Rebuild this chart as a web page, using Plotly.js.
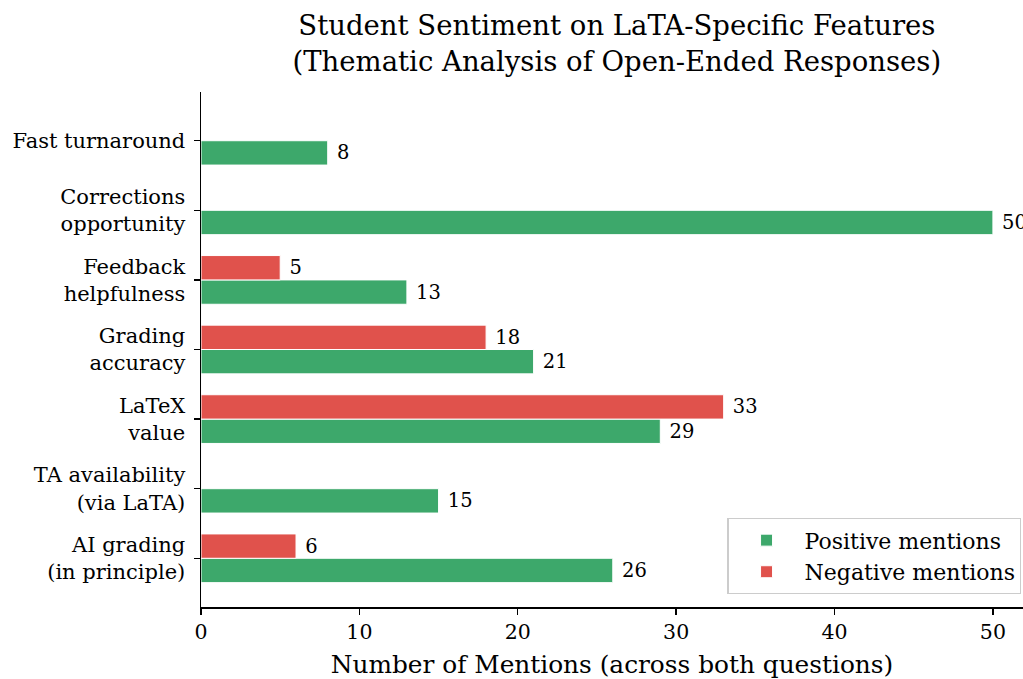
<!DOCTYPE html>
<html>
<head>
<meta charset="utf-8">
<script src="https://cdn.plot.ly/plotly-3.0.1.min.js"></script>
<style>html,body{margin:0;padding:0;background:#fff;}#chart{width:1023px;height:679px;}</style>
</head>
<body>
<div id="chart"></div>
<script>
const categories = ["Fast turnaround", "Corrections<br>opportunity", "Feedback<br>helpfulness", "Grading<br>accuracy", "LaTeX<br>value", "TA availability<br>(via LaTA)", "AI grading<br>(in principle)"];
const positiveValues = [8, 50, 13, 21, 29, 15, 26];
const negativeValues = [0, 0, 5, 18, 33, 0, 6];
const xTicks = [0, 10, 20, 30, 40, 50];

const FONT = "DejaVu Serif, serif";
const lbl = arr => arr.map(v => v > 0 ? "\u00a0" + String(v) : "");

const traces = [
  {
    type: "bar", orientation: "h", name: "Positive mentions",
    y: categories, x: positiveValues,
    offset: 0, width: 0.35,
    marker: {color: "#3DA86B", line: {color: "#ffffff", width: 1}},
    text: lbl(positiveValues), textposition: "outside", cliponaxis: false,
    textfont: {family: FONT, size: 19.5, color: "#000"}, constraintext: "none",
    hoverinfo: "x+name"
  },
  {
    type: "bar", orientation: "h", name: "Negative mentions",
    y: categories, x: negativeValues,
    offset: -0.35, width: 0.35,
    marker: {color: "#E0524C", line: {color: "#ffffff", width: 1}},
    text: lbl(negativeValues), textposition: "outside", cliponaxis: false,
    textfont: {family: FONT, size: 19.5, color: "#000"}, constraintext: "none",
    hoverinfo: "x+name"
  }
];

const layout = {
  width: 1023, height: 679,
  margin: {l: 201, r: 0, t: 92, b: 72},
  paper_bgcolor: "#fff", plot_bgcolor: "#fff",
  font: {family: FONT, color: "#000", size: 21},
  title: {
    text: "Student Sentiment on LaTA-Specific Features<br>(Thematic Analysis of Open-Ended Responses)",
    font: {family: FONT, size: 27.5, color: "#000"},
    xref: "container", yref: "container",
    x: 0.603, xanchor: "center", y: 0.948, yanchor: "middle"
  },
  barmode: "overlay",
  showlegend: true,
  legend: {
    xref: "paper", yref: "paper",
    x: 0.998, xanchor: "right", y: 0.025, yanchor: "bottom",
    bgcolor: "rgba(255,255,255,0.85)", bordercolor: "#cccccc", borderwidth: 1.2,
    font: {family: FONT, size: 22, color: "#000"},
    traceorder: "normal", itemwidth: 66
  },
  xaxis: {
    range: [0, 51.9], tickvals: xTicks, ticktext: xTicks.map(String),
    showgrid: false, zeroline: false,
    showline: true, linecolor: "#000", linewidth: 1.5,
    ticks: "outside", ticklen: 6, tickwidth: 1.3, tickcolor: "#000",
    tickfont: {family: FONT, size: 20.5, color: "#000"},
    title: {text: "Number of Mentions (across both questions)", font: {family: FONT, size: 24.8, color: "#000"}, standoff: 14}
  },
  yaxis: {
    type: "category", categoryorder: "array", categoryarray: categories,
    range: [6.7, -0.7],
    showgrid: false, zeroline: false,
    showline: true, linecolor: "#000", linewidth: 1.5,
    ticks: "outside", ticklen: 6, tickwidth: 1.3, tickcolor: "#000",
    ticklabelstandoff: 4,
    tickfont: {family: FONT, size: 21, color: "#000"}
  }
};

Plotly.newPlot("chart", traces, layout, {displayModeBar: false, staticPlot: true});
</script>
</body>
</html>
